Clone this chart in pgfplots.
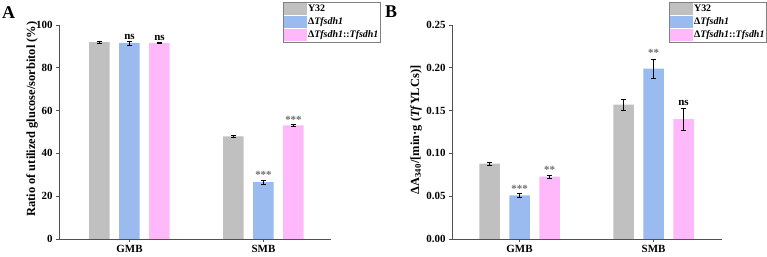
\documentclass[border=0pt]{standalone}
\usepackage{fontspec}
\setmainfont{Liberation Serif}
\usepackage{pgfplots}
\pgfplotsset{compat=1.18}
\definecolor{cgray}{RGB}{192,192,192}
\definecolor{cblue}{RGB}{153,187,240}
\definecolor{cpink}{RGB}{255,185,250}
\definecolor{axgray}{RGB}{80,80,80}
\definecolor{stargray}{RGB}{110,110,110}
\pgfplotsset{
  myaxis/.style={
    scale only axis,
    axis lines*=left,
    axis line style={axgray, line width=0.8pt},
    ybar,
    bar width=20.5bp,
    ymin=0,
    xtick={0,1},
    xticklabels={GMB,SMB},
    tick align=outside,
    tick style={axgray, line width=0.6pt},
    major tick length=3bp,
    tick label style={font=\bfseries\fontsize{11}{13}\selectfont},
    /pgf/number format/assume math mode=true,
    label style={font=\bfseries\fontsize{12.5}{14}\selectfont},
    legend style={draw=gray, line width=0.6pt, inner sep=0.5pt, outer sep=0pt,
      row sep=0pt, font=\bfseries\fontsize{10}{12}\selectfont, legend cell align=left, anchor=north east,
      nodes={inner sep=1pt, text height=8bp, text depth=3bp}},
    legend image code/.code={\fill[##1] (-1bp,-6.3bp) rectangle (22bp,6.3bp);},
    error bars/y dir=both,
    error bars/y explicit,
    error bars/error bar style={black, line width=0.6pt},
    error bars/error mark options={black, rotate=90, mark size=2.6bp, line width=0.6pt},
  }
}
\begin{document}
\begin{tikzpicture}
\path[use as bounding box] (0,0) rectangle (767bp,257bp);
\node[anchor=north west, inner sep=0pt, font=\bfseries\fontsize{18}{19}\selectfont] at (2bp,251bp) {A};
\node[anchor=north west, inner sep=0pt, font=\bfseries\fontsize{18}{19}\selectfont] at (385bp,251bp) {B};
% Panel A
\begin{axis}[myaxis,
  at={(59bp,18bp)}, anchor=south west,
  width=272bp, height=214bp,
  xmin=-0.526, xmax=1.504,
  ymax=100, ytick={0,20,40,60,80,100},
  ylabel={Ratio of utilized glucose/sorbitol (\%)},
  ylabel style={at={(axis description cs:-0.099,0.56)}, anchor=center},
  legend style={at={(axis description cs:1.18,1.107)}},
]
\addplot[fill=cgray, draw=none, bar shift=-30bp] coordinates {(0,92.0) +- (0,0.5) (1,48.0) +- (0,0.3)};
\addplot[fill=cblue, draw=none, bar shift=0bp] coordinates {(0,91.6) +- (0,0.9) (1,26.6) +- (0,0.9)};
\addplot[fill=cpink, draw=none, bar shift=30bp] coordinates {(0,91.6) +- (0,0.3) (1,53.1) +- (0,0.3)};
\legend{Y32, Δ\textit{Tfsdh1}, Δ\textit{Tfsdh1}::\textit{Tfsdh1}}
\node[anchor=south, inner sep=1pt, font=\bfseries\fontsize{11}{13}\selectfont] at (axis cs:0,92.6) {ns};
\node[anchor=south, inner sep=1pt, xshift=30bp, font=\bfseries\fontsize{11}{13}\selectfont] at (axis cs:0,92.0) {ns};
\node[anchor=south, inner sep=1pt, text=stargray, font=\bfseries\fontsize{11}{13}\selectfont] at (axis cs:1,27.7) {***};
\node[anchor=south, inner sep=1pt, xshift=30bp, text=stargray, font=\bfseries\fontsize{11}{13}\selectfont] at (axis cs:1,53.6) {***};
\end{axis}
% Panel B
\begin{axis}[myaxis,
  at={(452bp,18bp)}, anchor=south west,
  width=270bp, height=214bp,
  xmin=-0.504, xmax=1.511,
  ymax=0.25, ytick={0,0.05,0.10,0.15,0.20,0.25},
  yticklabel style={/pgf/number format/.cd, fixed, fixed zerofill, precision=2},
  scaled y ticks=false,
  ylabel={ΔA\textsubscript{340}/[min·g (\textit{Tf}YLCs)]},
  ylabel style={at={(axis description cs:-0.133,0.51)}, anchor=center},
  legend style={at={(axis description cs:1.163,1.107)}},
]
\addplot[fill=cgray, draw=none, bar shift=-30bp] coordinates {(0,0.088) +- (0,0.002) (1,0.157) +- (0,0.0065)};
\addplot[fill=cblue, draw=none, bar shift=0bp] coordinates {(0,0.051) +- (0,0.002) (1,0.199) +- (0,0.011)};
\addplot[fill=cpink, draw=none, bar shift=30bp] coordinates {(0,0.073) +- (0,0.002) (1,0.140) +- (0,0.013)};
\legend{Y32, Δ\textit{Tfsdh1}, Δ\textit{Tfsdh1}::\textit{Tfsdh1}}
\node[anchor=south, inner sep=1pt, text=stargray, font=\bfseries\fontsize{11}{13}\selectfont] at (axis cs:0,0.0535) {***};
\node[anchor=south, inner sep=1pt, xshift=30bp, text=stargray, font=\bfseries\fontsize{11}{13}\selectfont] at (axis cs:0,0.0755) {**};
\node[anchor=south, inner sep=1pt, text=stargray, font=\bfseries\fontsize{11}{13}\selectfont] at (axis cs:1,0.2115) {**};
\node[anchor=south, inner sep=1pt, xshift=30bp, font=\bfseries\fontsize{11}{13}\selectfont] at (axis cs:1,0.1545) {ns};
\end{axis}
\end{tikzpicture}
\end{document}
